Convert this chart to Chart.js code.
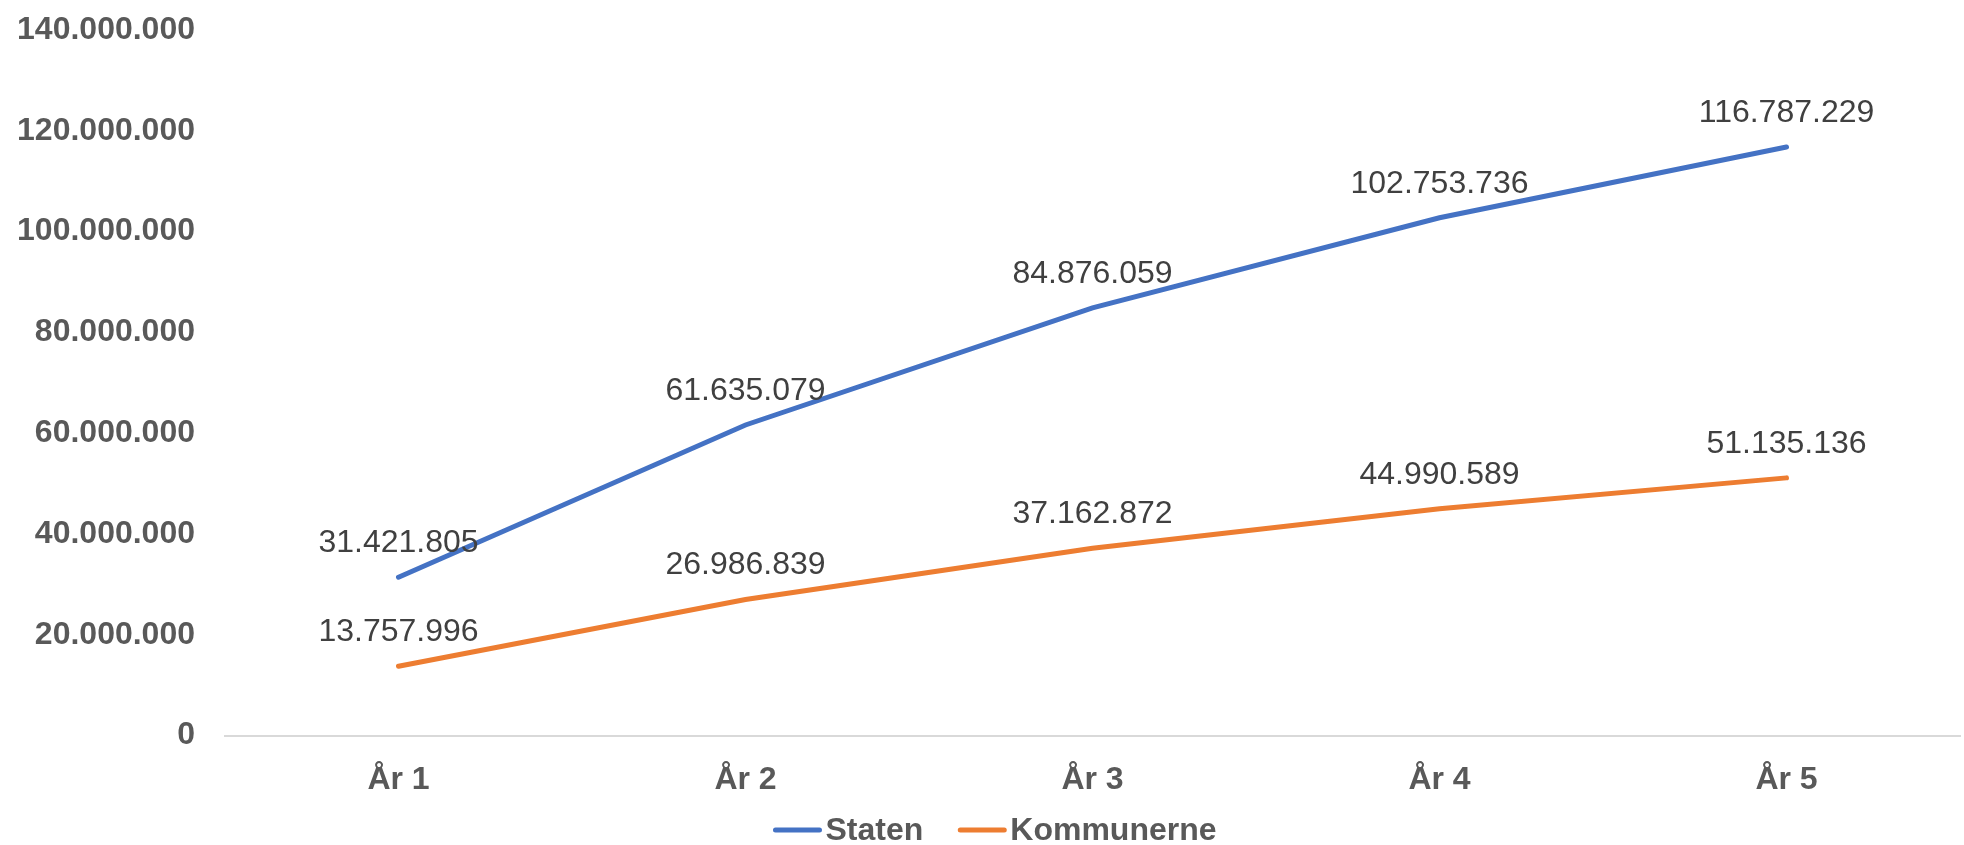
<!DOCTYPE html>
<html>
<head>
<meta charset="utf-8">
<script src="https://cdn.jsdelivr.net/npm/chart.js@4/dist/chart.umd.min.js"></script>
<style>
  html, body { margin: 0; padding: 0; background: #ffffff; }
  #wrap { width: 1964px; height: 845px; position: relative; }
</style>
</head>
<body>
<div id="wrap"><canvas id="graphic"></canvas></div>
<script>
//data of the chart
const years = ['År 1', 'År 2', 'År 3', 'År 4', 'År 5'];
const staten = [31421805, 61635079, 84876059, 102753736, 116787229];
const kommunerne = [13757996, 26986839, 37162872, 44990589, 51135136];
const yMin = 0;
const yMax = 140000000;
const yStep = 20000000;

const fontFamily = '"Liberation Sans", Arial, sans-serif';

//danish thousand separator
function formatNumber(v) {
    return String(Math.round(v)).replace(/\B(?=(\d{3})+(?!\d))/g, '.');
}

//draws the value over each point
const valueLabels = {
    id: 'valueLabels',
    afterDatasetsDraw(chart) {
        const ctx = chart.ctx;
        ctx.save();
        ctx.font = '32px ' + fontFamily;
        ctx.fillStyle = '#404040';
        ctx.textAlign = 'center';
        ctx.textBaseline = 'middle';
        chart.data.datasets.forEach((ds, i) => {
            const meta = chart.getDatasetMeta(i);
            meta.data.forEach((pt, j) => {
                ctx.fillText(formatNumber(ds.data[j]), pt.x, pt.y - 34);
            });
        });
        ctx.restore();
    }
};

//legend at the bottom: short line and bold name close together
const lineLegend = {
    id: 'lineLegend',
    afterDraw(chart) {
        const ctx = chart.ctx;
        const lineLen = 48;
        const gap = 4;
        const itemGap = 35;
        const y = chart.height - 15;
        ctx.save();
        ctx.font = 'bold 32px ' + fontFamily;
        ctx.textBaseline = 'middle';
        const items = chart.data.datasets.map(ds => ({
            text: ds.label,
            color: ds.borderColor,
            w: lineLen + gap + ctx.measureText(ds.label).width
        }));
        let total = items.reduce((s, it) => s + it.w, 0) + itemGap * (items.length - 1);
        let x = chart.width / 2 + 13 - total / 2;
        items.forEach(it => {
            ctx.strokeStyle = it.color;
            ctx.lineWidth = 5;
            ctx.lineCap = 'round';
            ctx.beginPath();
            ctx.moveTo(x + 2, y);
            ctx.lineTo(x + lineLen - 2, y);
            ctx.stroke();
            ctx.fillStyle = '#595959';
            ctx.textAlign = 'left';
            ctx.fillText(it.text, x + lineLen + gap, y + 1);
            x += it.w + itemGap;
        });
        ctx.restore();
    }
};

let graphic = document.getElementById('graphic');

let myChart = new Chart(graphic, {
    type: 'line',
    data: {
        labels: years,
        datasets: [
            {
                label: 'Staten',
                data: staten,
                borderColor: '#4472C4',
                backgroundColor: '#4472C4',
                borderWidth: 5,
                borderCapStyle: 'round',
                pointRadius: 0,
                tension: 0
            },
            {
                label: 'Kommunerne',
                data: kommunerne,
                borderColor: '#ED7D31',
                backgroundColor: '#ED7D31',
                borderWidth: 5,
                borderCapStyle: 'round',
                pointRadius: 0,
                tension: 0
            }
        ]
    },
    options: {
        responsive: true,
        maintainAspectRatio: false,
        animation: false,
        devicePixelRatio: 1,
        layout: {
            padding: { left: 17, right: 4, top: 30, bottom: 21 }
        },
        scales: {
            x: {
                offset: true,
                grid: { display: false, drawTicks: false },
                border: { display: true, color: '#d9d9d9', width: 2 },
                ticks: {
                    padding: 25,
                    color: '#595959',
                    font: { family: fontFamily, size: 32, weight: 'bold' }
                }
            },
            y: {
                min: yMin,
                max: yMax,
                grid: { display: false, drawTicks: false },
                border: { display: false },
                afterFit: (scale) => {
                    scale.width = 208;
                    scale.paddingTop = 0;
                    scale.paddingBottom = 0;
                },
                ticks: {
                    stepSize: yStep,
                    padding: 30,
                    color: '#595959',
                    font: { family: fontFamily, size: 32, weight: 'bold' },
                    callback: (value) => formatNumber(value)
                }
            }
        },
        plugins: {
            tooltip: { enabled: false },
            legend: { display: false }
        }
    },
    plugins: [valueLabels, lineLegend]
});
</script>
</body>
</html>
